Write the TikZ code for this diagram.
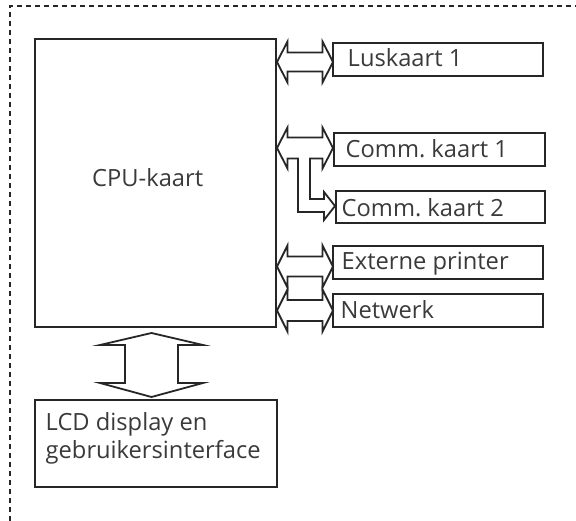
\documentclass[tikz,border=0pt]{standalone}
\usepackage{fontspec}
\setmainfont{Open Sans}
\frenchspacing
\definecolor{ink}{HTML}{262626}
\definecolor{txt}{HTML}{3A3A3A}
\tikzset{
  box/.style={draw=ink, line width=2pt, inner sep=0pt},
  lbl/.style={inner sep=0pt, anchor=base west, text=txt, font=\fontsize{23.7}{27}\selectfont},
  arr/.style={draw=ink, line width=1.8pt, fill=white, line join=miter},
  frame/.style={draw=ink, line width=2pt, dash pattern=on 5pt off 4pt}
}
\newcommand\hdbl[6]{%
  \draw[arr] (#1,#3) -- (#1+#6,#3-#5) -- (#1+#6,#3-#4) -- (#2-#6,#3-#4) -- (#2-#6,#3-#5)
    -- (#2,#3) -- (#2-#6,#3+#5) -- (#2-#6,#3+#4) -- (#1+#6,#3+#4) -- (#1+#6,#3+#5) -- cycle;}
\begin{document}
\begin{tikzpicture}[x=1pt,y=-1pt]
\useasboundingbox (0,0) rectangle (576,521);
\draw[frame] (9.5,521) -- (9.5,6.5) -- (576,6.5);

% boxes
\node[box, minimum width=241pt, minimum height=288pt] (cpu) at (155.5,183) {};
\node[box, minimum width=210pt, minimum height=33pt] (l1) at (438,59.5) {};
\node[box, minimum width=211pt, minimum height=33pt] (c1) at (439.5,149.5) {};
\node[box, minimum width=209pt, minimum height=32pt] (c2) at (440.5,207) {};
\node[box, minimum width=210pt, minimum height=33pt] (ep) at (438,262.5) {};
\node[box, minimum width=210pt, minimum height=33pt] (nw) at (438,310.5) {};
\node[box, minimum width=242pt, minimum height=87pt] (lcd) at (156,443.5) {};

% labels
\node[lbl] (cput) at (92,186.5) {CPU-kaart};
\node[lbl] (l1t) at (347.5,67) {Luskaart 1};
\node[lbl] (c1t) at (345.5,158) {Comm. kaart 1};
\node[lbl] (c2t) at (341.5,217) {Comm. kaart 2};
\node[lbl] (ept) at (341.5,269.5) {Externe printer};
\node[lbl] (nwt) at (340.5,319) {Netwerk};
\node[lbl] (lcdt1) at (45.5,431) {LCD display en};
\node[lbl] (lcdt2) at (45.5,458) {gebruikersinterface};

% bus arrows
\hdbl{277}{333}{62}{9.5}{20.5}{10.5}
\hdbl{277}{333}{266.5}{10}{21}{10.5}
\hdbl{277}{333}{310.5}{10.5}{21}{10.5}
\draw[arr] (277,148) -- (287.5,127.5) -- (287.5,137.5) -- (322.5,137.5) -- (322.5,127.5)
  -- (333,148) -- (322.5,168.5) -- (322.5,158.5) -- (310,158.5) -- (310,199) -- (324,199)
  -- (324,192) -- (335,206) -- (324,220) -- (324,212) -- (298,212) -- (298,158.5)
  -- (287.5,158.5) -- (287.5,168.5) -- cycle;
\draw[arr] (151.5,333) -- (203,345) -- (178,345) -- (178,383) -- (203,383) -- (151.5,397)
  -- (100,383) -- (125,383) -- (125,345) -- (100,345) -- cycle;
\end{tikzpicture}
\end{document}
